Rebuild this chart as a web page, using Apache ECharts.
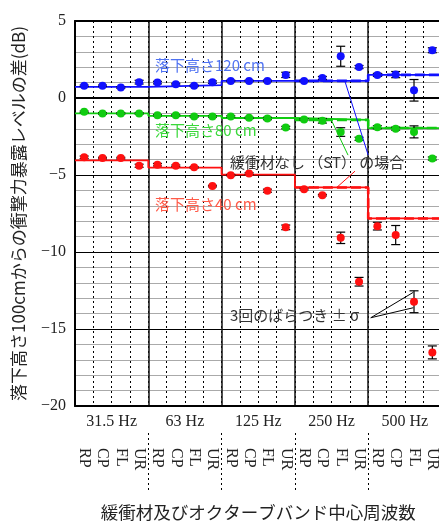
<!DOCTYPE html>
<html>
<head>
<meta charset="utf-8">
<script src="https://cdn.jsdelivr.net/npm/echarts@6/dist/echarts.min.js"></script>
<style>
  html, body { margin: 0; padding: 0; background: #fff; }
  #chart { width: 439px; height: 523px; }
</style>
</head>
<body>
<div id="chart"></div>
<script>
// Octave bands and cushion materials (4 materials per band)
const bands = ['31.5 Hz', '63 Hz', '125 Hz', '250 Hz', '500 Hz'];
const materials = ['RP', 'CP', 'FL', 'UR'];
const yTicks = [-20, -15, -10, -5, 0, 5];

// Level difference from the 100 cm drop (dB), drop height 120 cm
const h120 = [0.79, 0.79, 0.68, 1.03,  1.0, 0.9, 0.79, 1.03,  1.11, 1.11, 1.11, 1.5,  1.11, 1.3, 2.71, 2.01,  1.5, 1.52, 0.5, 3.1];
const h120Sd = [0.05, 0.05, 0.05, 0.12,  0.08, 0.05, 0.05, 0.08,  0.05, 0.05, 0.05, 0.17,  0.05, 0.1, 0.65, 0.1,  0.1, 0.2, 0.7, 0.16];
// drop height 80 cm
const h80 = [-0.9, -1.0, -1.0, -1.0,  -1.12, -1.12, -1.2, -1.2,  -1.2, -1.29, -1.33, -1.92,  -1.39, -1.48, -2.21, -2.65,  -1.9, -1.99, -2.2, -3.93];
const h80Sd = [0.05, 0.05, 0.05, 0.05,  0.05, 0.05, 0.05, 0.05,  0.05, 0.05, 0.08, 0.08,  0.05, 0.15, 0.28, 0.1,  0.1, 0.1, 0.39, 0.1];
// drop height 40 cm
const h40 = [-3.85, -3.9, -3.9, -4.4,  -4.33, -4.4, -4.5, -5.72,  -5.01, -4.9, -6.02, -8.4,  -5.92, -6.31, -9.08, -11.93,  -8.32, -8.9, -13.23, -16.52];
const h40Sd = [0.08, 0.05, 0.05, 0.1,  0.08, 0.05, 0.05, 0.05,  0.05, 0.05, 0.1, 0.15,  0.05, 0.05, 0.37, 0.28,  0.25, 0.62, 0.71, 0.42];

// Without cushion material (ST), one value per band
const st120 = [0.72, 0.83, 1.11, 1.11, 1.5];
const st80 = [-1.0, -1.16, -1.3, -1.42, -1.95];
const st40 = [-4.05, -4.52, -4.97, -5.81, -7.82];

const C_BLUE = '#1010ff', C_GREEN = '#10cc10', C_RED = '#ff1010';
const SERIF = '"Liberation Serif", "DejaVu Serif", serif';
const JP = '"Noto Sans CJK JP", sans-serif';

const categories = bands.flatMap(() => materials);
const perBand = materials.length;

// step path across bands on the continuous helper axis (0..20)
function stepData(vals, fromBand) {
  const out = [];
  vals.forEach((v, k) => {
    if (k < fromBand) return;
    out.push([k * perBand, v], [(k + 1) * perBand, v]);
  });
  return out;
}

function errorBars(vals, sds) {
  return {
    type: 'custom', xAxisIndex: 0, yAxisIndex: 0, z: 3, silent: true,
    data: vals.map((v, i) => [i, v, sds[i]]),
    renderItem(params, api) {
      const x = api.value(0), v = api.value(1), s = api.value(2);
      const hi = api.coord([x, v + s]);
      const lo = api.coord([x, v - s]);
      const w = 4.5;
      const st = { stroke: '#000', lineWidth: 1.2 };
      return {
        type: 'group',
        children: [
          { type: 'line', shape: { x1: hi[0], y1: hi[1], x2: lo[0], y2: lo[1] }, style: st },
          { type: 'line', shape: { x1: hi[0] - w, y1: hi[1], x2: hi[0] + w, y2: hi[1] }, style: st },
          { type: 'line', shape: { x1: lo[0] - w, y1: lo[1], x2: lo[0] + w, y2: lo[1] }, style: st }
        ]
      };
    }
  };
}

function points(vals, color) {
  return {
    type: 'scatter', xAxisIndex: 0, yAxisIndex: 0, z: 4, symbolSize: 8,
    itemStyle: { color: color, opacity: 1 },
    data: vals.map((v, i) => [i, v])
  };
}

function stLine(vals, color, pointers) {
  return {
    type: 'line', xAxisIndex: 3, yAxisIndex: 0, z: 2, symbol: 'none', silent: true,
    lineStyle: { color: color, width: 1.8 },
    data: stepData(vals, 0),
    markLine: {
      silent: true, symbol: ['none', 'none'], label: { show: false },
      lineStyle: { color: color, width: 1, type: 'solid' },
      data: pointers
    }
  };
}

function stDash(vals, color) {
  return {
    type: 'line', xAxisIndex: 3, yAxisIndex: 0, z: 2, symbol: 'none', silent: true,
    lineStyle: { color: color, width: 2.6, type: [10, 4] },
    data: stepData(vals, 3)
  };
}

const seg = (x1, y1, x2, y2, style) => {
  const a = { coord: [x1, y1] };
  if (style) a.lineStyle = style;
  return [a, { coord: [x2, y2] }];
};

const chart = echarts.init(document.getElementById('chart'), null, { renderer: 'canvas' });

const option = {
  animation: false,
  backgroundColor: '#fff',
  grid: { left: 75, top: 21, width: 366.5, height: 385, containLabel: false, outerBoundsMode: 'none' },
  xAxis: [
    { // materials
      type: 'category', data: categories, position: 'bottom', boundaryGap: true,
      axisLine: { show: false, onZero: false }, axisTick: { show: false },
      axisLabel: { interval: 0, rotate: -90, margin: 42, fontFamily: SERIF, fontSize: 16, color: '#222' },
      splitLine: { show: true, interval: 0, lineStyle: { color: '#000', width: 1, type: [2, 3] } }
    },
    { // octave bands
      type: 'category', data: bands, position: 'bottom', boundaryGap: true,
      axisLine: { show: true, onZero: false, lineStyle: { color: '#000', width: 2 } },
      axisTick: { show: false },
      axisLabel: { interval: 0, margin: 8, fontFamily: SERIF, fontSize: 16, color: '#222' },
      splitLine: { show: true, interval: 0, lineStyle: { color: '#111', width: 1.5 } },
      name: '緩衝材及びオクターブバンド中心周波数', nameLocation: 'middle', nameGap: 98,
      nameTextStyle: { fontFamily: JP, fontSize: 17.5, color: '#222' }
    },
    { // dotted separators in the label area
      type: 'category', data: bands, position: 'bottom', offset: 27, boundaryGap: true,
      axisLine: { show: false, onZero: false },
      axisTick: { show: true, interval: (i) => i > 0, length: 57, lineStyle: { color: '#000', width: 1, type: [2, 3] } },
      axisLabel: { show: false }, splitLine: { show: false }
    },
    { // continuous helper axis for band-wide lines
      type: 'value', min: 0, max: bands.length * perBand, show: false,
      axisLine: { onZero: false }, splitLine: { show: false }
    },
    { // top border
      type: 'category', data: bands, position: 'top',
      axisLine: { show: true, onZero: false, lineStyle: { color: '#000', width: 2 } },
      axisTick: { show: false }, axisLabel: { show: false }, splitLine: { show: false }
    },
    { // zero line
      type: 'category', data: bands, position: 'bottom',
      axisLine: { show: true, onZero: true, lineStyle: { color: '#000', width: 2 } },
      axisTick: { show: false }, axisLabel: { show: false }, splitLine: { show: false }
    }
  ],
  yAxis: {
    type: 'value', min: yTicks[0], max: yTicks[yTicks.length - 1], interval: 5,
    axisLine: { show: true, onZero: false, lineStyle: { color: '#000', width: 2 } },
    axisTick: { show: false },
    minorTick: { show: false, splitNumber: 5 },
    minorSplitLine: { show: true, lineStyle: { color: '#aaaaaa', width: 1.2 } },
    splitLine: { show: true, lineStyle: { color: '#000', width: 1 } },
    axisLabel: {
      margin: 9, fontFamily: SERIF, fontSize: 16, color: '#222',
      formatter: (v) => String(v).replace('-', '\u2212')
    },
    name: '落下高さ100cmからの衝撃力暴露レベルの差(dB)', nameLocation: 'middle', nameGap: 48,
    nameTextStyle: { fontFamily: JP, fontSize: 17, color: '#222' }
  },
  series: [
    stLine(st120, C_BLUE, [
      seg(14.73, 1.09, 16.0, -3.71),
      seg(16.14, -14.27, 18.46, -12.62, { color: '#000', width: 1 }),
      seg(16.14, -14.27, 18.46, -13.62, { color: '#000', width: 1 })
    ]),
    stLine(st80, C_GREEN, [seg(14.02, -1.51, 14.9, -3.71)]),
    stLine(st40, C_RED, [seg(14.3, -5.79, 15.28, -4.75)]),
    stDash(st120, C_BLUE),
    stDash(st80, C_GREEN),
    stDash(st40, C_RED),
    errorBars(h120, h120Sd),
    errorBars(h80, h80Sd),
    errorBars(h40, h40Sd),
    points(h120, C_BLUE),
    points(h80, C_GREEN),
    points(h40, C_RED)
  ],
  graphic: [
    { type: 'text', left: 155, top: 58, z: 10, style: { text: '落下高さ120 cm', font: '15px ' + JP, fill: '#4f72f2' } },
    { type: 'text', left: 155, top: 123, z: 10, style: { text: '落下高さ80 cm', font: '15px ' + JP, fill: '#3ad83a' } },
    { type: 'text', left: 155, top: 197, z: 10, style: { text: '落下高さ40 cm', font: '15px ' + JP, fill: '#ff5a48' } },
    { type: 'text', left: 230, top: 155, z: 10, style: { text: '緩衝材なし （ST） の場合', font: '15px ' + JP, fill: '#333' } },
    { type: 'text', left: 230, top: 308, z: 10, style: { text: '3回のばらつき ± σ', font: '15px ' + JP, fill: '#333' } }
  ]
};

chart.setOption(option);
</script>
</body>
</html>
